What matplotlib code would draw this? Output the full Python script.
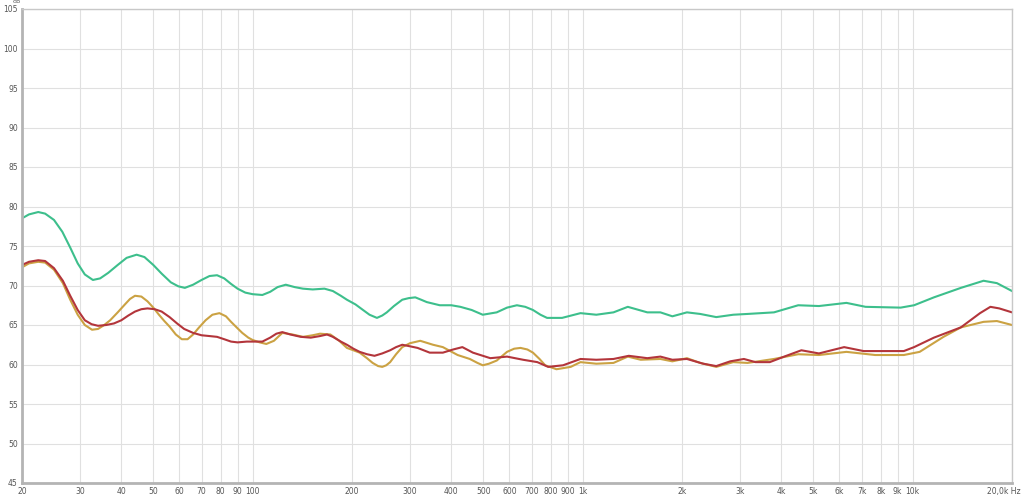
import numpy as np
import matplotlib.pyplot as plt
from matplotlib.ticker import FixedLocator, NullLocator
from matplotlib.transforms import ScaledTranslation

# Curvas (Hz, dB)
freq_verde = [20, 21, 22.4, 23.5, 25, 26.5, 28, 29.5, 31, 32.8, 34.5, 36.5, 39, 41.5, 44.5, 47, 50,
              53, 56.5, 59.5, 62.3, 66, 70, 74, 78, 82, 86, 90, 95, 100, 107, 113, 119, 126, 134,
              142, 152, 165, 175, 185, 193, 205, 216, 226, 238, 247, 255, 268, 284, 297, 311, 324,
              337, 369, 400, 426, 461, 498, 549, 590, 632, 670, 707, 745, 780, 866, 985, 1100, 1240,
              1370, 1570, 1720, 1870, 2070, 2270, 2540, 2860, 3160, 3800, 4500, 5200, 6300, 7200,
              9200, 10100, 11600, 14000, 16400, 18000, 20000]
db_verde = [78.5, 79.0, 79.3, 79.1, 78.3, 76.8, 74.8, 72.8, 71.4, 70.7, 70.9, 71.6, 72.6, 73.5, 73.9,
            73.6, 72.6, 71.5, 70.4, 69.9, 69.7, 70.1, 70.7, 71.2, 71.3, 70.9, 70.2, 69.6, 69.1, 68.9,
            68.8, 69.2, 69.8, 70.1, 69.8, 69.6, 69.5, 69.6, 69.3, 68.7, 68.2, 67.6, 66.9, 66.3, 65.9,
            66.2, 66.6, 67.4, 68.2, 68.4, 68.5, 68.2, 67.9, 67.5, 67.5, 67.3, 66.9, 66.3, 66.6, 67.2,
            67.5, 67.3, 66.9, 66.3, 65.9, 65.9, 66.5, 66.3, 66.6, 67.3, 66.6, 66.6, 66.1, 66.6, 66.4,
            66.0, 66.3, 66.4, 66.6, 67.5, 67.4, 67.8, 67.3, 67.2, 67.5, 68.5, 69.7, 70.6, 70.3, 69.3]

freq_vermelho = [20, 21, 22.4, 23.5, 25, 26.6, 28, 29.5, 31, 32.5, 34, 36, 38, 40, 42, 44, 46, 48,
                 50.5, 53, 56, 59, 62, 66, 70, 74, 78, 82, 86, 90, 96, 102, 107, 113, 118, 123, 130,
                 140, 150, 160, 168, 175, 185, 193, 202, 211, 222, 234, 247, 261, 272, 284, 300, 316,
                 344, 377, 405, 432, 465, 525, 590, 660, 729, 786, 872, 985, 1100, 1240, 1380, 1570,
                 1720, 1870, 2070, 2320, 2540, 2800, 3080, 3340, 3690, 4080, 4600, 5200, 6200, 7100,
                 8100, 9400, 10100, 11600, 14000, 16000, 17200, 18300, 20000]
db_vermelho = [72.6, 73.0, 73.2, 73.1, 72.2, 70.6, 68.7, 66.9, 65.6, 65.1, 64.9, 65.0, 65.2, 65.6,
               66.2, 66.7, 67.0, 67.1, 67.0, 66.7, 66.0, 65.2, 64.5, 64.0, 63.7, 63.6, 63.5, 63.2,
               62.9, 62.8, 62.9, 62.9, 62.9, 63.4, 63.9, 64.1, 63.8, 63.5, 63.4, 63.6, 63.8, 63.5,
               62.9, 62.5, 62.0, 61.6, 61.3, 61.1, 61.4, 61.8, 62.2, 62.5, 62.3, 62.1, 61.5, 61.5,
               61.9, 62.2, 61.5, 60.8, 61.0, 60.6, 60.3, 59.7, 59.9, 60.7, 60.6, 60.7, 61.1, 60.8,
               61.0, 60.6, 60.7, 60.1, 59.8, 60.4, 60.7, 60.3, 60.3, 61.0, 61.8, 61.4, 62.2, 61.7,
               61.7, 61.7, 62.2, 63.4, 64.7, 66.5, 67.3, 67.1, 66.6]

freq_amarelo = [20, 21, 22.4, 23.5, 25, 26.6, 28, 29.5, 31, 32.6, 34, 35.5, 37, 39, 41, 42.5, 44, 46,
                48, 50, 52, 54, 56, 58.5, 61, 63.5, 66, 68.5, 72, 75.5, 79.3, 83, 86, 89.4, 93, 97,
                100, 105, 110, 116, 123, 132, 142, 152, 160, 172, 183, 193, 202, 211, 222, 231, 240,
                247, 254, 261, 272, 284, 300, 322, 352, 377, 418, 455, 480, 498, 520, 549, 590, 620,
                648, 680, 707, 740, 770, 833, 920, 985, 1100, 1240, 1370, 1500, 1720, 1870, 2070,
                2270, 2540, 2860, 3160, 3800, 4500, 5200, 6300, 7700, 9400, 10500, 12400, 14000,
                16400, 18000, 20000]
db_amarelo = [72.3, 72.8, 73.0, 72.9, 72.0, 70.3, 68.2, 66.3, 65.0, 64.4, 64.5, 65.0, 65.6, 66.6,
              67.6, 68.3, 68.7, 68.6, 68.0, 67.2, 66.3, 65.5, 64.8, 63.8, 63.2, 63.2, 63.8, 64.6,
              65.6, 66.3, 66.5, 66.1, 65.4, 64.7, 64.0, 63.4, 63.1, 62.8, 62.6, 63.0, 64.0, 63.8,
              63.5, 63.7, 63.9, 63.8, 63.0, 62.1, 61.8, 61.5, 60.8, 60.2, 59.8, 59.7, 59.9, 60.3,
              61.3, 62.2, 62.7, 63.0, 62.5, 62.2, 61.2, 60.7, 60.2, 59.9, 60.1, 60.5, 61.6, 62.0,
              62.1, 61.9, 61.5, 60.7, 59.9, 59.4, 59.7, 60.3, 60.1, 60.2, 61.0, 60.6, 60.7, 60.4,
              60.8, 60.2, 59.7, 60.3, 60.2, 60.7, 61.3, 61.2, 61.6, 61.2, 61.2, 61.6, 63.5, 64.7,
              65.4, 65.5, 65.0]

ticks_x = [20, 30, 40, 50, 60, 70, 80, 90, 100, 200, 300, 400, 500, 600, 700, 800, 900,
           1000, 2000, 3000, 4000, 5000, 6000, 7000, 8000, 9000, 10000, 20000]
rotulos_x = ['20', '30', '40', '50', '60', '70', '80', '90', '100', '200', '300', '400', '500',
             '600', '700', '800', '900', '1k', '2k', '3k', '4k', '5k', '6k', '7k', '8k', '9k',
             '10k', '20,0k Hz']
ticks_y = list(range(45, 106, 5))

fig = plt.figure(figsize=(10.24, 4.97), dpi=100)
ax = fig.add_axes([22 / 1024, 1 - 483 / 497, 990 / 1024, 474 / 497])

ax.plot(freq_verde, db_verde, color='#3dbf8c', lw=1.5)
ax.plot(freq_amarelo, db_amarelo, color='#cba243', lw=1.5)
ax.plot(freq_vermelho, db_vermelho, color='#b3353b', lw=1.5)

ax.set_xscale('log')
ax.set_xlim(20, 20000)
ax.set_ylim(45, 105)
ax.xaxis.set_major_locator(FixedLocator(ticks_x))
ax.xaxis.set_minor_locator(NullLocator())
ax.set_xticklabels(rotulos_x)
ax.set_yticks(ticks_y)
ax.set_yticklabels([str(v) for v in ticks_y])

ax.grid(True, color='#e0e0e0', lw=0.8)
ax.set_axisbelow(True)
ax.tick_params(length=0, labelsize=5.5, labelcolor='#555555', pad=3)
for lado in ['top', 'right']:
    ax.spines[lado].set_color('#c8c8c8')
    ax.spines[lado].set_linewidth(1)
for lado in ['left', 'bottom']:
    ax.spines[lado].set_color('#b4b4b4')
    ax.spines[lado].set_linewidth(2)

# último rótulo deslocado para não sair da figura
ultimo = ax.get_xticklabels()[-1]
ultimo.set_transform(ultimo.get_transform() + ScaledTranslation(-6 / 72, 0, fig.dpi_scale_trans))

# "dB" acima do rótulo 105
ax.text(0, 1.0, 'dB', fontsize=4.5, color='#555555', ha='right', va='bottom',
        transform=ax.transAxes + ScaledTranslation(-1 / 72, 3.5 / 72, fig.dpi_scale_trans))

fig.savefig('out.png', dpi=100)
